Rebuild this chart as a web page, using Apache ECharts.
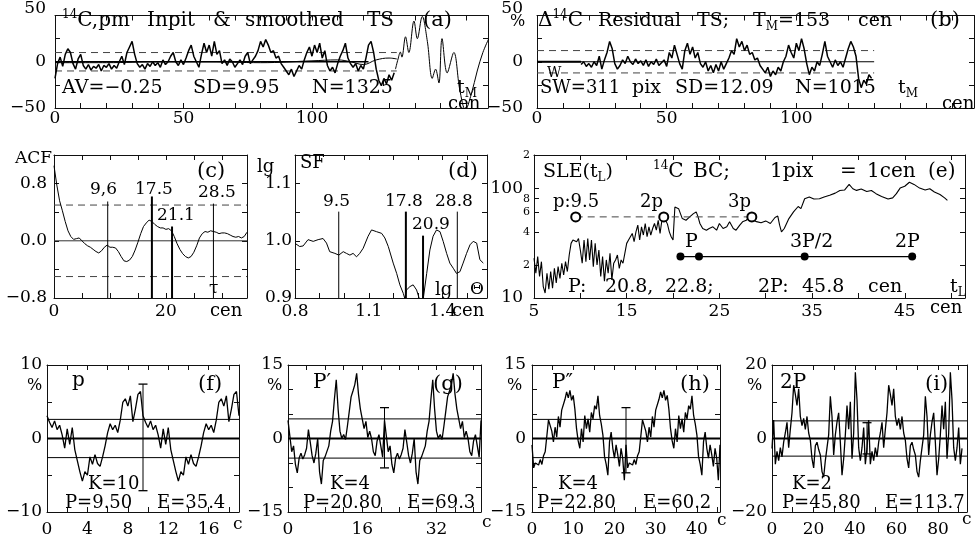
<!DOCTYPE html>
<html><head><meta charset="utf-8">
<script src="https://cdn.jsdelivr.net/npm/echarts@6/dist/echarts.min.js"></script>
<style>html,body{margin:0;padding:0;background:#fff}#c{width:977px;height:538px}</style>
</head><body><div id="c"></div>
<script>
// ---------------- DATA ----------------
// (a) input 14C TS, 1 cen step from 0
const aStep = 1;
const aNoisy = [-18,-2,5,-5,8,14,10,-2,-8,3, 8,-4,-8,-3,-9,-5,-7,-3,-10,-4,
 -6,-2,-8,-4,-7,0,6,-3,10,16, 22,8,-2,-6,-3,-8,-2,-5,0,-4,
 -1,-6,2,-3,0,6,10,0,-4,2, -3,4,12,18,6,0,-6,8,20,10,
 18,6,22,8,12,-2,2,-4,3,0, -6,-2,2,-3,6,10,-2,2,6,12,
 22,16,24,18,10,12,4,6,-2,-6, -10,-14,-8,-16,-10,-4,-8,2,10,16,
 6,18,10,20,4,12,-4,-10,-6,-12, -2,6,12,20,4,-2,-6,-2,-10,-4,
 -8,4,18,22,10,-8,-20,-26,-18,-24, -14,-20,-12];
const aTailX = [132.5,133.5,134.4,135,136.4,137.7,139.7,141,142.9,144.9,146.8,148.1,149.4,150.6,152.6,155.2,157.5,159.7,162,164.3,166.5,168.8];
const aTailY = [-8,3,10.5,5,27,10,44,25,49,22,-18,-8,-23,25,-12,10,-30,-52,-35,-10,10,25];
const aSmoothX = [0,20,40,60,80,100,110,115,120,125,130,133];
const aSmoothY = [-1,-1,0,0,-1,1,2,0,-3,2,4,3];
const aSD = 9.95, aZeroEnd = 122, aBandEnd = 133;
// (b) residual TS
const bStart = 17, bStep = 1, bEnd = 130, bSD = 12.09;
const bNoisy = [-3,0,-5,-2,-6,0,-4,6,-8,2, 10,22,14,-2,-8,-4,2,-2,6,0,
 -3,3,-2,1,-4,2,-5,0,-3,3, -4,-1,2,-5,10,4,18,8,-2,-8,
 12,20,8,16,4,10,-2,-6,0,-10, -4,-12,-3,-10,0,-8,-2,4,12,8,
 25,16,22,12,18,8,10,2,4,-4, -8,-12,-6,-16,-10,-14,-6,-10,0,6,
 18,10,4,20,12,25,14,-2,-14,-6, -10,0,-4,8,22,6,0,-6,2,-4,
 0,-6,4,14,22,16,6,-18,-28,-20, -24,-14,-18];
// (c) ACF, step 0.5 cen
const acfStep = 0.5;
const acf = [1.05,0.78,0.56,0.42,0.27,0.14,0.06,0.02,0.03,0.04, 0.0,-0.04,-0.07,-0.09,-0.12,-0.15,-0.17,-0.14,-0.09,-0.06,
 -0.09,-0.09,-0.10,-0.15,-0.22,-0.28,-0.29,-0.27,-0.22,-0.13, -0.02,0.10,0.20,0.25,0.29,0.27,0.23,0.20,0.18,0.18,
 0.16,0.17,0.14,0.06,-0.04,-0.12,-0.18,-0.22,-0.24,-0.22, -0.16,-0.07,0.04,0.10,0.13,0.12,0.14,0.13,0.12,0.10,
 0.11,0.11,0.10,0.08,0.06,0.05,0.06,0.04,0.06,0.12];
const acfBand = 0.5;
const acfPeaks = [9.6,17.5,21.1,28.5];
const acfPeakTops = [0.55,0.62,0.2,0.52];
// (d) structure function (lg period vs lg SF)
const sfX = [0.802,0.819,0.833,0.853,0.874,0.894,0.914,0.928,0.941,0.962,0.978,0.996,1.009,1.023,1.036,1.050,1.063,1.077,1.097,1.111,
 1.131,1.152,1.165,1.179,1.199,1.213,1.226,1.240,1.246,1.253,1.267,1.280,1.294,1.307,1.317,1.321,1.335,1.348,1.361,1.375,
 1.389,1.402,1.416,1.429,1.443,1.456,1.470,1.483,1.497,1.511,1.524,1.538,1.551,1.565];
const sfY = [0.995,0.990,0.991,1.002,0.999,1.002,1.004,0.996,0.981,0.978,0.975,0.981,0.978,0.975,0.978,0.972,0.978,0.987,1.008,1.019,
 1.016,1.013,1.005,0.990,0.961,0.943,0.923,0.908,0.899,0.914,0.920,0.923,0.914,0.896,0.891,0.899,0.943,0.984,1.008,1.019,
 1.016,0.999,0.978,0.961,0.952,0.943,0.946,0.961,0.978,0.993,0.999,0.996,0.967,0.961];
const sfPeaks = [9.5,17.8,20.9,28.8];
const sfPeakTops = [1.051,1.051,1.009,1.051];
// (e) SLE(tL)
const sleX = [5.0,5.2,5.4,5.6,5.8,6.0,6.2,6.4,6.6,6.8,7.0,7.2,7.4,7.6,7.8,8.0,8.2,8.4,8.6,8.8,
 9.0,9.2,9.4,9.6,9.8,10.0,10.2,10.4,10.6,10.8,11.0,11.2,11.4,11.6,11.8,12.0,12.2,12.4,12.6,12.8,
 13.0,13.2,13.4,13.6,13.8,14.0,14.2,14.4,14.6,14.8,15.0,15.2,15.4,15.6,15.8,16.0,16.2,16.4,16.6,16.8,
 17.0,17.2,17.4,17.6,17.8,18.0,18.2,18.4,18.6,18.8,19.0,19.2,19.4,19.6,19.8,20.0,20.2,20.4,20.6,20.8,
 21.0,21.4,21.8,22.2,22.5,22.7,22.9,23.2,23.6,23.9,24.3,24.7,25.0,25.4,25.8,26.1,26.5,26.8,27.2,27.5,
 27.9,28.3,28.7,29.0,29.5,30.0,30.5,31.0,31.3,31.5,31.7,32.0,32.5,33.0,33.5,33.8,34.2,34.7,35.2,35.8,
 36.3,36.9,37.5,38.0,38.5,39.0,39.4,39.8,40.3,40.9,41.4,41.9,42.5,43.2,43.7,44.1,44.5,45.0,45.5,46.0,
 46.6,47.2,47.7,48.2,48.8,49.3,49.6];
const sleY = [23,16.8,23.8,15.7,21.4,12.7,11.1,16.8,12,17.4,12.3,18.6,13.7,19.3,15.1,20.7,16.2,21.4,17.4,24.6,
 31.4,33.7,34.8,32.5,34.8,27.3,20.7,33.7,21.4,34.8,22.2,33.7,19.3,31.4,20,27.3,15.7,23.8,14.2,22.2,
 16.8,25.5,14.6,20.7,22.2,24.6,18.6,22.2,20.7,25.5,31.4,33.7,34.8,38.7,32.5,40,46,33.7,44.4,37.4,
 47.6,36.1,44.4,37.4,42.9,47.6,41.4,51,38.7,51,55.5,51,47,40,36.1,33.7,67.3,68,65,58.6,
 52.8,51,54.7,58.6,60.7,54.7,47.6,42.9,41.4,42.9,44.4,41.4,47.6,42.9,44.4,49.3,42.9,41.4,46,49.3,
 51,54.7,51,49.5,48.3,50.3,47.6,54,55.6,46,40,42.9,52.8,60.7,68,65,80,83,79.5,80,
 83,86,90,95,96,108,98.6,95.3,98,93,95,89,84,79.5,81.5,89,100,104,113,108,
 100,96,98.6,92,87.5,81.5,77.4];
const pHarm = [9.5,19,28.5], pLevel = 54.7;
const PHarm = [20.8,22.8,34.2,45.8], PLevel = 23.8;
// (f)-(i) folded periodic components (one period each, drawn twice)
const fP = 9.5, fBand = 2.6, fCross = [-7.1, 7.4];
const fPeriod = [3.1,2.2,1.5,2.4,1.2,1.8,0.5,-1.3,1.3,-0.8, 1.5,-1.5,-3.0,-4.5,-5.8,-4.5,-5.0,-2.5,-3.5,-2.2,
 -3.4,-3.8,-2.5,-1.0,0.8,2.0,1.2,1.8,0.8,2.5, 4.9,5.4,4.4,5.8,2.3,4.0,6.0,6.4];
const gP = 20.8, gBand = 4.0, gCross = [-6.0, 6.3];
const gPeriod = [3.7,0.5,-2.7,-1.5,-5.3,-7.0,-4.0,-3.0,-4.2,-3.3, -2.0,1.8,-0.8,-3.5,-5.0,-3.0,0.0,-6.8,-9.3,-4.5,
 -3.7,-3.3,-1.5,1.5,3.5,8.0,12.0,6.0,1.5,0.0, 0.8,-0.2,2.5,5.5,8.5,9.7,11.0,13.3,9.0,6.0,
 4.0,2.0,3.5,0.2,1.5,0.0,-2.7,-3.5,-0.5,0.8, -1.5,-3.8];
const hP = 22.8, hBand = 3.9, hCross = [-7.0, 6.3];
const hPeriod = [-1.3,-6.0,-5.0,-4.7,-5.4,-4.3,-5.3,-3.5,-2.7,0.5, 3.8,4.0,1.5,-0.7,2.3,0.3,4.5,2.3,5.8,6.2,
 8.0,9.5,8.3,9.8,7.8,8.8,6.0,2.0,-0.5,-2.0, 2.0,-0.7,4.7,2.0,4.0,1.3,5.3,4.0,6.7,6.0,
 8.7,4.7,3.0,0.7,-3.7,-5.3,-7.5,-0.7,1.3,-2.0, -4.0,-1.3,-3.3,-5.7,-2.0,-4.0,-8.5];
const iP = 45.8, iBand = 4.8, iCross = [-4.2, 4.3];
const iPeriod = [-2.7,5.0,-7.0,-3.5,-6.0,-2.5,-5.0,-1.0,1.5,4.4, -2.5,2.5,7.0,14.5,12.0,9.0,13.5,6.0,3.5,5.5,
 2.5,6.0,1.5,-0.5,-5.5,-8.0,-2.0,-1.0,-3.0,-4.5, -9.0,-10.5,-6.0,-2.5,1.0,11.5,6.0,-4.5,1.0,4.5,
 7.0,-1.0,-10.0,-5.5,1.0,9.0,2.5,10.0,-5.5,1.5, 18.0,10.5,-2.5,-6.0,-2.5,3.0,-7.0];

// ---------------- BUILD ----------------
const FF = '"DejaVu Serif", serif';
const grids = [], xAxes = [], yAxes = [], series = [], graphics = [];
const near = (v, list) => list.some(l => Math.abs(l - v) < 1e-6);
const fmt = (v, dec) => (v < -1e-9 ? '\u2212' : '') + Math.abs(v).toFixed(dec);

function axisBase(gi) {
  return {gridIndex: gi, type: 'value', splitLine: {show: false},
    axisLine: {show: true, onZero: false, lineStyle: {color: '#111', width: 1}},
    axisTick: {show: true, inside: true, length: 5, lineStyle: {color: '#111', width: 1}}};
}
function panel(rect, xc, yc) {
  const gi = grids.length;
  grids.push({left: rect[0], top: rect[1], width: rect[2], height: rect[3]});
  const xb = Object.assign(axisBase(gi), {min: xc.min, max: xc.max, interval: xc.interval, position: 'bottom',
    axisLabel: {show: true, margin: xc.margin, color: '#000', fontFamily: FF, fontSize: 17,
      formatter: v => near(v, xc.labels) ? fmt(v, xc.dec || 0) : ''}});
  const xt = Object.assign(axisBase(gi), {min: xc.min, max: xc.max, interval: xc.interval, position: 'top', axisLabel: {show: false}});
  const yl = Object.assign(axisBase(gi), {min: yc.min, max: yc.max, interval: yc.interval, position: 'left',
    axisLabel: yc.axisLabel || {show: true, margin: yc.margin, color: '#000', fontFamily: FF, fontSize: 17,
      formatter: v => near(v, yc.labels) ? fmt(v, yc.dec || 0) : ''}});
  const yr = Object.assign(axisBase(gi), {min: yc.min, max: yc.max, interval: yc.interval, position: 'right', axisLabel: {show: false}});
  if (yc.tickValues) { yl.axisTick.customValues = yc.tickValues; yr.axisTick.customValues = yc.tickValues; }
  xAxes.push(xb, xt); yAxes.push(yl, yr);
  return gi;
}
function line(gi, data, style, extra) {
  series.push(Object.assign({type: 'line', xAxisIndex: gi * 2, yAxisIndex: gi * 2, data: data,
    symbol: 'none', showSymbol: false, silent: true, animation: false, clip: true,
    lineStyle: Object.assign({color: '#000', width: 1}, style || {})}, extra || {}));
}
const dashed = {color: '#444', width: 1, type: [7, 5]};
function twoPeriods(vals, P) {
  const n = vals.length, st = P / n, out = [];
  for (let k = 0; k < 2; k++) vals.forEach((v, i) => out.push([k * P + i * st, v]));
  out.push([2 * P, vals[0]]);
  return out;
}

// (a)
const topYLabel = (margin) => ({show: true, margin: margin, color: '#000', fontFamily: FF, fontSize: 17,
  formatter: v => Math.abs(v - 50) < 1e-6 ? '{t|50}' : (near(v, [0, -50]) ? fmt(v, 0) : ''),
  rich: {t: {fontFamily: FF, fontSize: 17, padding: [0, 0, 14, 0]}}});
const ga = panel([55, 15, 433, 93], {min: 0, max: 168.5, interval: 10, labels: [0, 50, 100], margin: 2},
  {min: -50, max: 50, interval: 25, axisLabel: topYLabel(9)});
line(ga, [[0, aSD], [aBandEnd, aSD]], dashed);
line(ga, [[0, -aSD], [aBandEnd, -aSD]], dashed);
line(ga, [[0, 0], [aZeroEnd, 0]], {width: 1.4});
line(ga, aSmoothX.map((x, i) => [x, aSmoothY[i]]), {width: 1}, {smooth: 0.4});
line(ga, aNoisy.map((v, i) => [i * aStep, v]), {width: 1.5});
line(ga, aTailX.map((x, i) => [x, aTailY[i]]), {width: 1}, {smooth: 0.35});

// (b)
const gb = panel([537, 15, 438, 93], {min: 0, max: 168.5, interval: 10, labels: [0, 50, 100], margin: 2},
  {min: -50, max: 50, interval: 25, axisLabel: topYLabel(14)});
line(gb, [[0, bSD], [bEnd, bSD]], dashed);
line(gb, [[0, -bSD], [bEnd, -bSD]], dashed);
line(gb, [[0, 0], [bEnd, 0]], {width: 1});
line(gb, [[0, 0], [bStart, 0]], {width: 1.8});
line(gb, bNoisy.map((v, i) => [bStart + i * bStep, v]), {width: 1.5});

// (c)
const gc = panel([54, 155, 193, 143], {min: 0, max: 34.5, interval: 5, labels: [0, 20], margin: 5},
  {min: -0.8, max: 1.2, interval: 0.4, labels: [-0.8, 0, 0.8], dec: 1, margin: 7});
line(gc, [[0, acfBand], [34.5, acfBand]], dashed);
line(gc, [[0, -acfBand], [34.5, -acfBand]], dashed);
line(gc, [[0, 0], [34.5, 0]], {color: '#333', width: 1});
acfPeaks.forEach((x, i) => line(gc, [[x, -0.8], [x, acfPeakTops[i]]], {width: (i === 1 || i === 2) ? 2 : 1}));
line(gc, acf.map((v, i) => [i * acfStep, v]), {width: 1});

// (d)
const gd = panel([295, 155, 192, 143], {min: 0.8, max: 1.58, interval: 0.1, labels: [0.8, 1.1, 1.4], dec: 1, margin: 5},
  {min: 0.9, max: 1.15, interval: 0.05, labels: [0.9, 1.0, 1.1], dec: 1, margin: 3});
sfPeaks.forEach((p, i) => line(gd, [[Math.log10(p), 0.9], [Math.log10(p), sfPeakTops[i]]], {width: (i === 1 || i === 2) ? 2 : 1}));
line(gd, sfX.map((x, i) => [x, sfY[i]]), {width: 1});

// (e)
const L = Math.log10;
const eTicks = [10, 20, 40, 60, 80, 100, 200].map(L);
const ge = panel([534, 155, 431, 143], {min: 5, max: 51.5, interval: 5, labels: [5, 15, 25, 35, 45], margin: 5},
  {min: 1, max: L(200), interval: 1, tickValues: eTicks,
   axisLabel: {show: true, margin: 4, color: '#000', fontFamily: FF, fontSize: 17, customValues: eTicks,
     formatter: v => { const n = Math.round(Math.pow(10, v)); return (n === 10 || n === 100) ? '{b|' + n + '}' : '{s|' + String(n)[0] + '}'; },
     rich: {b: {fontFamily: FF, fontSize: 17, padding: [0, 7, 0, 0]}, s: {fontFamily: FF, fontSize: 11}}}});
line(ge, sleX.map((x, i) => [x, L(sleY[i])]), {width: 1.1});
line(ge, [[pHarm[0], L(pLevel)], [pHarm[2], L(pLevel)]], dashed);
line(ge, pHarm.map(x => [x, L(pLevel)]), {width: 0}, {symbol: 'emptyCircle', symbolSize: 9, showSymbol: true,
  itemStyle: {color: '#000', borderColor: '#000', borderWidth: 1}});
line(ge, PHarm.map(x => [x, L(PLevel)]), {width: 1.2}, {symbol: 'circle', symbolSize: 8, showSymbol: true, itemStyle: {color: '#000'}});

// (f)-(i)
function foldPanel(rect, xc, yc, P, period, band, cross) {
  const g = panel(rect, xc, yc);
  line(g, [[0, band], [xc.max, band]], {width: 1});
  line(g, [[0, -band], [xc.max, -band]], {width: 1});
  line(g, [[0, 0], [xc.max, 0]], {width: 2.2});
  line(g, twoPeriods(period, P), {width: 1.3});
  line(g, [[P, cross[0]], [P, cross[1]]], {width: 1}, {symbol: 'rect', symbolSize: [9, 1.3], showSymbol: true, itemStyle: {color: '#000'}});
  return g;
}
foldPanel([47, 365, 192, 147], {min: 0, max: 19, interval: 2, labels: [0, 4, 8, 12, 16], margin: 9},
  {min: -10, max: 10, interval: 5, labels: [-10, 0, 10], margin: 5}, fP, fPeriod, fBand, fCross);
foldPanel([288, 365, 193, 147], {min: 0, max: 41.6, interval: 4, labels: [0, 16, 32], margin: 9},
  {min: -15, max: 15, interval: 5, labels: [-15, 0, 15], margin: 5}, gP, gPeriod, gBand, gCross);
foldPanel([532, 365, 188, 147], {min: 0, max: 45.6, interval: 5, labels: [0, 10, 20, 30, 40], margin: 9},
  {min: -15, max: 15, interval: 5, labels: [-15, 0, 15], margin: 6}, hP, hPeriod, hBand, hCross);
foldPanel([772, 365, 195, 147], {min: 0, max: 94, interval: 10, labels: [0, 20, 40, 60, 80], margin: 9},
  {min: -20, max: 20, interval: 10, labels: [-20, 0, 20], margin: 5}, iP, iPeriod, iBand, iCross);

// ---------------- TEXT ----------------
const cv = document.createElement('canvas').getContext('2d');
function wid(t, s) { cv.font = s + 'px "DejaVu Serif"'; return cv.measureText(t).width; }
function run(x, y, parts, size) {
  let cx = x;
  parts.forEach(p => {
    let t = p, k = 'n';
    if (Array.isArray(p)) { t = p[0]; k = p[1]; }
    const s = k === 'n' ? size : Math.round(size * 0.62);
    const dy = k === 'sub' ? size * 0.32 : (k === 'sup' ? -size * 0.33 : 0);
    graphics.push({type: 'text', x: cx, y: y + dy, silent: true, z: 100,
      style: {text: t, fontSize: s, fontFamily: FF, fill: '#000', align: 'left', verticalAlign: 'middle'}});
    cx += wid(t, s);
  });
}
// (a)
run(62, 21, [['14', 'sup'], 'C,pm'], 20); run(147, 21, ['Inpit'], 20); run(213, 21, ['&'], 20);
run(245, 21, ['smoothed'], 20); run(367, 21, ['TS'], 20); run(423, 21, ['(a)'], 21);
run(62, 88, ['AV=\u22120.25'], 19); run(193, 88, ['SD=9.95'], 19); run(312, 88, ['N=1325'], 19);
run(457, 88, ['t', ['M', 'sub']], 19); run(448, 104, ['cen'], 18);
// (b)
run(510, 22, ['%'], 16);
run(538, 21, ['\u0394', ['14', 'sup'], 'C'], 20);
run(598, 21, ['Residual'], 19); run(697, 21, ['TS;'], 19); run(753, 21, ['T', ['M', 'sub'], '=153'], 19);
run(858, 21, ['cen'], 19); run(930, 21, ['(b)'], 21);
run(547, 73, ['W'], 14);
run(540, 88, ['SW=311'], 18); run(632, 88, ['pix'], 19); run(675, 88, ['SD=12.09'], 19); run(795, 88, ['N=1015'], 19);
run(898, 88, ['t', ['M', 'sub']], 19); run(942, 104, ['cen'], 18);
// (c)
run(15, 159, ['ACF'], 17); run(197, 172, ['(c)'], 21);
run(90, 190, ['9,6'], 17); run(135, 190, ['17.5'], 17); run(157, 216, ['21.1'], 17); run(198, 193, ['28.5'], 17);
run(209, 289, ['\u03c4'], 17); run(210, 311, ['cen'], 18);
// (d)
run(257, 167, ['lg'], 18); run(300, 163, ['SF'], 18); run(448, 172, ['(d)'], 21);
run(323, 202, ['9.5'], 17); run(385, 202, ['17.8'], 17); run(435, 202, ['28.8'], 17); run(412, 225, ['20.9'], 17);
run(435, 290, ['lg'], 18); run(470, 290, ['\u0398'], 17); run(452, 311, ['cen'], 18);
// (e)
run(543, 172, ['SLE(t', ['L', 'sub'], ')'], 19);
run(653, 172, [['14', 'sup'], 'C'], 20); run(693, 172, ['BC;'], 20); run(770, 172, ['1pix'], 20);
run(840, 172, ['='], 20); run(867, 172, ['1cen'], 20); run(928, 172, ['(e)'], 20);
run(553, 202, ['p:9.5'], 18); run(640, 202, ['2p'], 18); run(728, 202, ['3p'], 18);
run(685, 242, ['P'], 19); run(790, 242, ['3P/2'], 19); run(895, 242, ['2P'], 19);
run(568, 287, ['P:'], 19); run(605, 287, ['20.8,'], 19); run(665, 287, ['22.8;'], 19); run(758, 287, ['2P:'], 19);
run(802, 287, ['45.8'], 19); run(868, 287, ['cen'], 19); run(950, 287, ['t', ['L', 'sub']], 19);
run(930, 308, ['cen'], 18);
// (f)-(i)
run(27, 386, ['%'], 16); run(72, 381, ['p'], 20); run(198, 385, ['(f)'], 21);
run(88, 484, ['K=10'], 18); run(65, 503, ['P=9.50'], 18); run(157, 503, ['E=35.4'], 18); run(233, 525, ['c'], 17);
run(267, 386, ['%'], 16); run(313, 383, ['P\u2032'], 20); run(433, 385, ['(g)'], 21);
run(330, 484, ['K=4'], 18); run(303, 503, ['P=20.80'], 18); run(407, 503, ['E=69.3'], 18); run(482, 523, ['c'], 17);
run(507, 386, ['%'], 16); run(552, 383, ['P\u2033'], 20); run(680, 385, ['(h)'], 21);
run(558, 484, ['K=4'], 18); run(537, 503, ['P=22.80'], 18); run(643, 503, ['E=60.2'], 18); run(717, 521, ['c'], 17);
run(747, 386, ['%'], 16); run(780, 383, ['2P'], 20); run(925, 385, ['(i)'], 21);
run(792, 484, ['K=2'], 18); run(782, 503, ['P=45.80'], 18); run(885, 503, ['E=113.7'], 18); run(962, 520, ['c'], 17);

const chart = echarts.init(document.getElementById('c'), null, {renderer: 'canvas'});
chart.setOption({
  animation: false, backgroundColor: '#fff',
  textStyle: {fontFamily: FF, color: '#000'},
  grid: grids, xAxis: xAxes, yAxis: yAxes, series: series, graphic: graphics
});
</script></body></html>
